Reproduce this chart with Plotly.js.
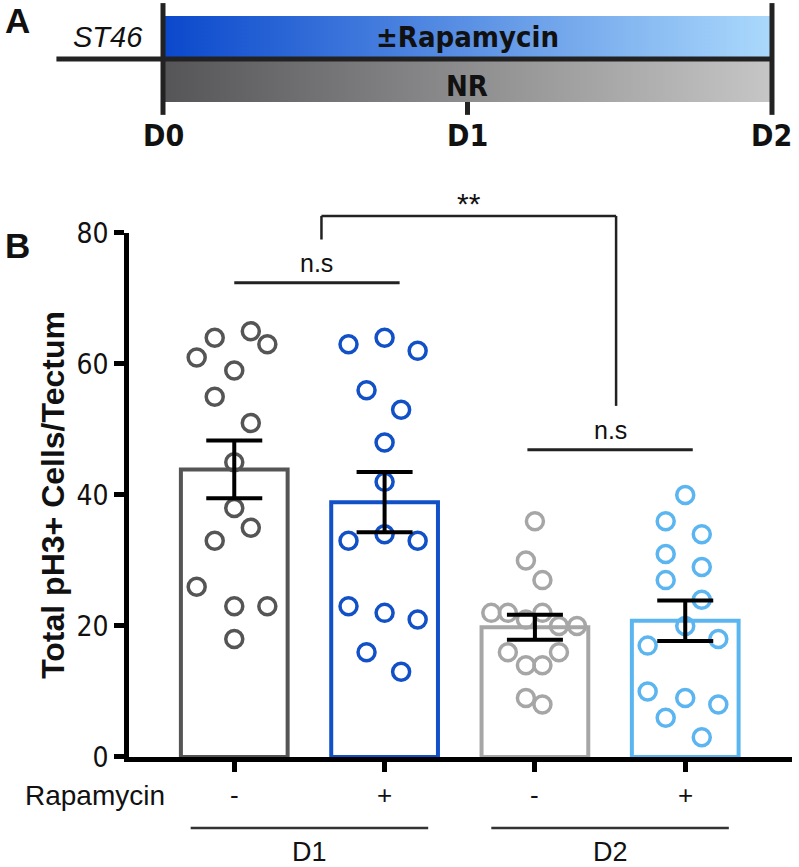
<!DOCTYPE html>
<html>
<head>
<meta charset="utf-8">
<script src="https://cdn.plot.ly/plotly-3.0.1.min.js"></script>
<style>
  body { margin: 0; background: #fff; }
  #plot { width: 799px; height: 867px; }
</style>
</head>
<body>
<div id="plot"></div>
<script>
// panel B data
const groups = ['D1 -', 'D1 +', 'D2 -', 'D2 +'];
const groupX = [0, 1, 2, 3];
const signs = ['-', '+', '-', '+'];
const days = ['D1', 'D2'];
const dayCenters = [0.5, 2.5];
const colors = ['#555555', '#1150c6', '#a6a6a6', '#5bb5f0'];
const means = [43.9, 38.9, 19.8, 20.8];
const sems = [4.4, 4.6, 1.9, 3.1];

const d1Minus = [64, 65, 63, 61, 59, 55, 51, 45, 38, 35, 33, 26, 23, 23, 18];
const d1MinusJit = [-0.13, 0.11, 0.22, -0.25, 0, -0.13, 0.11, 0, 0, 0.11, -0.13, -0.25, 0, 0.22, 0];
const d1Plus = [63, 64, 62, 56, 53, 48, 42, 33, 34, 33, 23, 22, 21, 16, 13];
const d1PlusJit = [-0.24, 0, 0.22, -0.12, 0.11, 0, 0, -0.24, 0, 0.22, -0.24, 0, 0.22, -0.12, 0.11];
const d2Minus = [36, 30, 27, 22, 22, 21, 22, 20, 20, 16, 16, 14, 14, 9, 8];
const d2MinusJit = [0, -0.06, 0.05, -0.29, -0.18, -0.06, 0.05, 0.16, 0.28, -0.18, 0.16, -0.06, 0.05, -0.06, 0.05];
const d2Plus = [40, 36, 34, 31, 29, 27, 24, 20, 17, 18, 10, 9, 6, 8, 3];
const d2PlusJit = [0, -0.13, 0.11, -0.13, 0.11, -0.13, 0.11, 0, -0.25, 0.22, -0.25, 0, -0.13, 0.22, 0.11];

const points = [d1Minus, d1Plus, d2Minus, d2Plus];
const jitter = [d1MinusJit, d1PlusJit, d2MinusJit, d2PlusJit];

// significance marks: [x0, x1, y]
const nsPairs = [[0, 1.1, 72.4], [1.95, 3.05, 46.9]];
const starBracket = { x0: 0.58, x1: 2.54, yLeft: 79, yTop: 82.6, yRight: 53.6 };

// panel A timeline
const timeline = ['D0', 'D1', 'D2'];
const timelineX = [0, 1, 2];

const yMax = 80;
const yd = v => v / yMax;

const narrow = "'Liberation Sans Narrow', 'Arial Narrow', 'DejaVu Sans Condensed', sans-serif";
const plain = "'Liberation Sans', Arial, sans-serif";

const traces = [];

traces.push({
  type: 'bar',
  x: groupX,
  y: means,
  width: 0.71,
  marker: { color: 'rgba(255,255,255,0)', line: { color: colors, width: 4 } },
  hoverinfo: 'skip'
});

points.forEach((vals, i) => {
  traces.push({
    type: 'scatter',
    mode: 'markers',
    name: groups[i],
    x: vals.map((v, k) => groupX[i] + jitter[i][k]),
    y: vals,
    marker: { symbol: 'circle-open', size: 17, color: colors[i], line: { width: 3.5, color: colors[i] } }
  });
});

traces.push({
  type: 'scatter',
  mode: 'markers',
  x: groupX,
  y: means,
  marker: { opacity: 0 },
  error_y: { type: 'data', array: sems, color: '#000', thickness: 4, width: 28 },
  hoverinfo: 'skip'
});

// panel A gradient bands
const t0 = timelineX[0], t1 = timelineX[timelineX.length - 1];
traces.push({
  type: 'scatter', mode: 'lines', xaxis: 'x2', yaxis: 'y2',
  x: [t0, t1, t1, t0, t0], y: [1, 1, 2, 2, 1],
  fill: 'toself', line: { width: 0 },
  fillgradient: { type: 'horizontal', colorscale: [[0, '#0a48cc'], [1, '#abd9fc']] },
  hoverinfo: 'skip'
});
traces.push({
  type: 'scatter', mode: 'lines', xaxis: 'x2', yaxis: 'y2',
  x: [t0, t1, t1, t0, t0], y: [0, 0, 1, 1, 0],
  fill: 'toself', line: { width: 0 },
  fillgradient: { type: 'horizontal', colorscale: [[0, '#555558'], [1, '#c6c6c6']] },
  hoverinfo: 'skip'
});

const shapes = [];
const annotations = [];
const txt = (o) => Object.assign({ showarrow: false, xanchor: 'center', yanchor: 'middle' }, o);

// panel A lines
shapes.push({ type: 'line', xref: 'x2', yref: 'y2', x0: -0.35, x1: t1, y0: 1, y1: 1, line: { color: '#222', width: 5 } });
[t0, t1].forEach(x => shapes.push({ type: 'line', xref: 'x2', yref: 'y2', x0: x, x1: x, y0: -0.3, y1: 2.3, line: { color: '#222', width: 5 } }));
shapes.push({ type: 'line', xref: 'x2', yref: 'y2', x0: timelineX[1], x1: timelineX[1], y0: -0.3, y1: 0, line: { color: '#222', width: 5 } });

timeline.forEach((d, i) => annotations.push(txt({
  xref: 'x2', yref: 'y2', x: timelineX[i], y: -0.77, text: d,
  font: { family: narrow, size: 30, weight: 'bold', color: '#111' }
})));
annotations.push(txt({ xref: 'x2', yref: 'y2', x: 1, y: 1.5, text: '±Rapamycin',
  font: { family: narrow, size: 29, weight: 'bold', color: '#111' } }));
annotations.push(txt({ xref: 'x2', yref: 'y2', x: 1, y: 0.36, text: 'NR',
  font: { family: narrow, size: 29, weight: 'bold', color: '#111' } }));
annotations.push(txt({ xref: 'x2', yref: 'y2', x: -0.18, y: 1.5, text: 'ST46',
  font: { family: plain, size: 29, style: 'italic', color: '#111' } }));

annotations.push(txt({ xref: 'paper', yref: 'paper', x: 0.022, y: 0.9758, text: 'A',
  font: { family: plain, size: 35, weight: 'bold', color: '#111' } }));
annotations.push(txt({ xref: 'paper', yref: 'paper', x: 0.022, y: 0.7174, text: 'B',
  font: { family: plain, size: 35, weight: 'bold', color: '#111' } }));

// significance
nsPairs.forEach(([a, b, y]) => {
  shapes.push({ type: 'line', xref: 'x', yref: 'y domain', x0: a, x1: b, y0: yd(y), y1: yd(y), line: { color: '#222', width: 3 } });
  annotations.push(txt({ xref: 'x', yref: 'y domain', x: (a + b) / 2, y: yd(y), yanchor: 'bottom', yshift: 4,
    text: 'n.s', font: { family: plain, size: 25, color: '#111' } }));
});
const sb = starBracket;
shapes.push({ type: 'line', xref: 'x', yref: 'y domain', x0: sb.x0, x1: sb.x0, y0: yd(sb.yLeft), y1: yd(sb.yTop), line: { color: '#222', width: 2.5 } });
shapes.push({ type: 'line', xref: 'x', yref: 'y domain', x0: sb.x0, x1: sb.x1, y0: yd(sb.yTop), y1: yd(sb.yTop), line: { color: '#222', width: 2.5 } });
shapes.push({ type: 'line', xref: 'x', yref: 'y domain', x0: sb.x1, x1: sb.x1, y0: yd(sb.yTop), y1: yd(sb.yRight), line: { color: '#222', width: 2.5 } });
annotations.push(txt({ xref: 'x', yref: 'y domain', x: (sb.x0 + sb.x1) / 2, y: yd(sb.yTop), yanchor: 'bottom', yshift: -6,
  text: '**', font: { family: plain, size: 30, color: '#111' } }));

// x labels below axis
signs.forEach((s, i) => annotations.push(txt({ xref: 'x', yref: 'paper', x: groupX[i], y: 0.083, text: s,
  font: { family: plain, size: 26, color: '#111' } })));
annotations.push(txt({ xref: 'paper', yref: 'paper', x: 0.119, y: 0.083, text: 'Rapamycin',
  font: { family: plain, size: 28, color: '#111' } }));
days.forEach((d, i) => {
  shapes.push({ type: 'line', xref: 'x', yref: 'paper', x0: dayCenters[i] - 0.79, x1: dayCenters[i] + 0.79, y0: 0.045, y1: 0.045,
    line: { color: '#333', width: 2.5 } });
  annotations.push(txt({ xref: 'x', yref: 'paper', x: dayCenters[i], y: 0.0173, text: d,
    font: { family: plain, size: 27, color: '#111' } }));
});

const layout = {
  width: 799,
  height: 867,
  margin: { l: 0, r: 0, t: 0, b: 0 },
  paper_bgcolor: '#fff',
  plot_bgcolor: 'rgba(0,0,0,0)',
  showlegend: false,
  xaxis: {
    domain: [0.1615, 0.9912],
    range: [-0.70, 3.71],
    tickvals: groupX,
    showticklabels: false,
    ticks: 'outside', ticklen: 10, tickwidth: 5, tickcolor: '#000',
    showline: true, linewidth: 5, linecolor: '#000',
    showgrid: false, zeroline: false, fixedrange: true
  },
  yaxis: {
    domain: [0.1269, 0.7313],
    range: [0, yMax],
    tickvals: [0, 20, 40, 60, 80],
    ticks: 'outside', ticklen: 10, tickwidth: 5, tickcolor: '#000',
    tickfont: { family: narrow, size: 28, color: '#111' },
    showline: true, linewidth: 5, linecolor: '#000',
    showgrid: false, zeroline: false, fixedrange: true,
    title: { text: 'Total pH3+ Cells/Tectum', standoff: 4,
      font: { family: plain, size: 32, weight: 'bold', color: '#111' } }
  },
  xaxis2: { anchor: 'y2', domain: [0, 1], range: [-0.5353, 2.0887], visible: false, fixedrange: true },
  yaxis2: { anchor: 'x2', domain: [0.8155, 1], range: [-1.349, 2.372], visible: false, fixedrange: true },
  shapes,
  annotations
};

Plotly.newPlot('plot', traces, layout, { displayModeBar: false, staticPlot: true });
</script>
</body>
</html>
